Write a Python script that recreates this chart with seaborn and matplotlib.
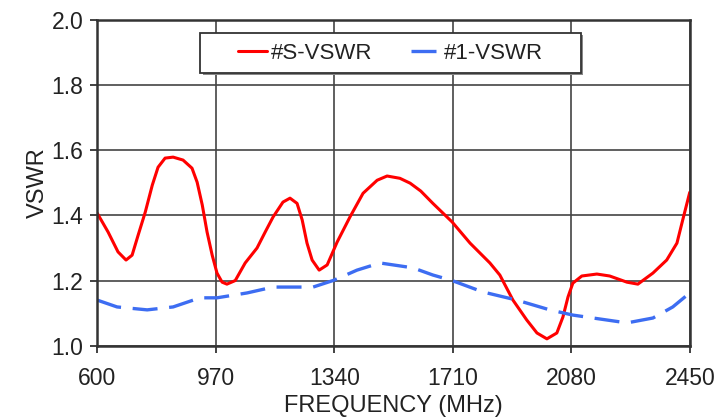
import matplotlib
matplotlib.use("Agg")
import matplotlib.pyplot as plt
from matplotlib.patches import Rectangle
import seaborn as sns
import pandas as pd

# curve points (MHz, VSWR)
s_freq = [600, 634, 665, 690, 709, 728, 750, 772, 790, 812, 837, 868, 896, 912, 928,
          943, 959, 974, 990, 1005, 1031, 1062, 1099, 1125, 1149, 1180, 1202, 1224,
          1240, 1255, 1271, 1293, 1318, 1349, 1389, 1430, 1474, 1505, 1545, 1577,
          1610, 1648, 1708, 1764, 1826, 1857, 1898, 1941, 1973, 2004, 2035, 2054,
          2070, 2085, 2113, 2160, 2200, 2254, 2288, 2335, 2378, 2410, 2428, 2450]
s_vswr = [1.407, 1.349, 1.288, 1.263, 1.278, 1.340, 1.410, 1.493, 1.548, 1.576, 1.579,
          1.570, 1.545, 1.502, 1.432, 1.349, 1.278, 1.223, 1.195, 1.189, 1.200, 1.254,
          1.300, 1.350, 1.395, 1.441, 1.453, 1.437, 1.386, 1.315, 1.263, 1.232, 1.248,
          1.318, 1.395, 1.468, 1.508, 1.521, 1.514, 1.499, 1.475, 1.437, 1.380, 1.315,
          1.254, 1.217, 1.140, 1.079, 1.039, 1.021, 1.039, 1.088, 1.150, 1.192, 1.214,
          1.220, 1.214, 1.195, 1.189, 1.223, 1.263, 1.315, 1.386, 1.471]

one_freq = [600, 662, 756, 837, 921, 974, 1068, 1149, 1274, 1336, 1374, 1411, 1483,
            1545, 1586, 1648, 1708, 1804, 1910, 2013, 2085, 2148, 2254, 2335, 2397, 2450]
one_vswr = [1.140, 1.119, 1.110, 1.119, 1.147, 1.147, 1.162, 1.180, 1.180, 1.200,
            1.216, 1.232, 1.254, 1.245, 1.239, 1.217, 1.200, 1.165, 1.140, 1.110,
            1.094, 1.085, 1.070, 1.085, 1.119, 1.162]

x_ticks = [600, 970, 1340, 1710, 2080, 2450]
y_ticks = [1.0, 1.2, 1.4, 1.6, 1.8, 2.0]

df_s = pd.DataFrame({"freq": s_freq, "vswr": s_vswr})
df_1 = pd.DataFrame({"freq": one_freq, "vswr": one_vswr})

sns.set_theme(style="white")
plt.rcParams["font.family"] = ["Liberation Sans", "DejaVu Sans"]
text_col = "#222222"

fig = plt.figure(figsize=(7.2, 4.17), dpi=100)
ax = fig.add_axes([0.135, 0.171, 0.823, 0.781])

sns.lineplot(data=df_s, x="freq", y="vswr", ax=ax, color="#ff0000", linewidth=2.2,
             label="#S-VSWR")
sns.lineplot(data=df_1, x="freq", y="vswr", ax=ax, color="#3d6df2", linewidth=2.4,
             label="#1-VSWR")
ax.lines[0].set_solid_joinstyle("round")
ax.lines[1].set_dashes([7.5, 3.5])

ax.set_xlim(600, 2450)
ax.set_ylim(1.0, 2.0)
ax.set_xticks(x_ticks)
ax.set_yticks(y_ticks)
ax.set_yticklabels([f"{v:.1f}" for v in y_ticks])
ax.grid(True, color="#444444", linewidth=1.2)
ax.tick_params(direction="out", length=5, width=1.3, colors="#333333",
               labelsize=16.5, labelcolor=text_col, left=True, bottom=True)
ax.tick_params(axis="x", pad=10)
ax.tick_params(axis="y", pad=5)
for sp in ax.spines.values():
    sp.set_color("#333333")
    sp.set_linewidth(1.8)

ax.set_xlabel("FREQUENCY (MHz)", fontsize=17, color=text_col, labelpad=4)
ax.set_ylabel("VSWR", fontsize=17, color=text_col, labelpad=2)

# legend box with a small drop shadow
x0, y0, w, h = 0.174, 0.837, 0.642, 0.123
ax.add_patch(Rectangle((x0 + 0.004, y0 - 0.007), w, h, transform=ax.transAxes,
                       facecolor="#888888", edgecolor="none", zorder=4))
ax.add_patch(Rectangle((x0, y0), w, h, transform=ax.transAxes, facecolor="white",
                       edgecolor="#333333", linewidth=1.3, zorder=5))
leg = ax.legend(loc="center", bbox_to_anchor=(x0 + w / 2, y0 + h / 2), ncol=2,
                frameon=False, fontsize=16, handlelength=1.3, handletextpad=0.2,
                columnspacing=1.7, borderaxespad=0)
leg.set_zorder(6)
for t in leg.get_texts():
    t.set_color(text_col)

plt.savefig("out.png", dpi=100)
